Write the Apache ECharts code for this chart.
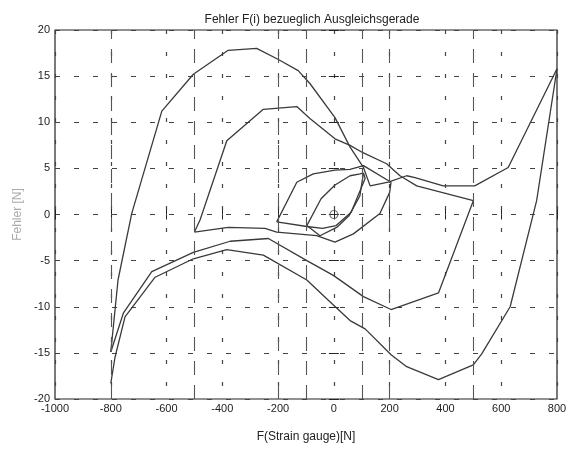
<!DOCTYPE html>
<html><head><meta charset="utf-8">
<script src="https://cdn.jsdelivr.net/npm/echarts@6/dist/echarts.min.js"></script>
<style>html,body{margin:0;padding:0;background:#fff}#c{width:582px;height:452px}</style>
</head><body><div id="c"></div>
<script>
// ---- chart text ----
const titleText = 'Fehler F(i) bezueglich Ausgleichsgerade';
const xName = 'F(Strain gauge)[N]';
const yName = 'Fehler [N]';
// ---- axis scales ----
const xMin = -1000, xMax = 800, xStep = 200;
const yMin = -20, yMax = 20, yStep = 5;
// vertical reference lines (turning points of the load cycles)
const refLines = [-800, -500, -200, -100, 100, 200, 500];
// ---- measured error, branch by branch, [force, error] ----
const branch1 = [[-800,-18.3],[-785,-15.5],[-749,-11.1],[-641,-6.8],[-504,-4.8],[-384,-3.8],[-253,-4.4],[-97,-7.1],[-20,-9.3],[58,-11.5],[112,-12.4],[205,-15.2],[261,-16.5],[375,-17.9],[500,-16.3],[530,-15.1],[632,-10],[727,1.5],[800,15.8]];
const branch2 = [[800,15.8],[625,5.1],[505,3.1],[392,3.1],[291,4.0],[261,4.2],[195,3.5],[130,3.1],[106,5.1],[58,7.3],[4,10.5],[-86,14.2],[-128,15.6],[-199,16.8],[-277,18.0],[-379,17.8],[-504,15.2],[-617,11.2],[-725,0.1],[-774,-7.1],[-800,-14.9]];
const branch3 = [[-800,-14.9],[-755,-10.7],[-653,-6.2],[-504,-4.1],[-372,-2.9],[-235,-2.6],[-97,-5.0],[-2,-6.6],[106,-8.9],[205,-10.3],[375,-8.5],[500,1.5]];
const branch4 = [[500,1.5],[297,3.1],[237,4.2],[189,5.5],[104,6.7],[58,7.5],[4,8.2],[-86,10.4],[-133,11.7],[-253,11.4],[-384,8.0],[-480,-0.6],[-500,-1.9]];
const branch5 = [[-500,-1.9],[-379,-1.4],[-247,-1.5],[-205,-1.9],[-62,-2.3],[4,-3.0],[70,-2.1],[165,0.1],[200,2.4],[205,3.5]];
const branch6 = [[205,3.5],[106,5.3],[58,4.9],[4,4.8],[-74,4.4],[-133,3.5],[-205,-0.8]];
const branch7 = [[-205,-0.8],[-97,-1.3],[-41,-1.5],[8,-1.2],[62,0.25],[112,3.9],[106,4.5]];
const branch8 = [[106,4.5],[94,4.4],[58,4.2],[4,3.2],[-46,1.7],[-97,-1.2]];
const branch9 = [[-97,-1.2],[-50,-2.3],[10,-1.4],[55,-0.1],[93,2.0],[106,4.5]];
const startPoint = [[0, 0]];

const branches = [branch1, branch2, branch3, branch4, branch5, branch6, branch7, branch8, branch9];
const lineColor = '#3a3a3a';
const font = 'Liberation Sans, Arial, sans-serif';

const chart = echarts.init(document.getElementById('c'), null, {renderer: 'canvas'});
const series = branches.map(b => ({
  type: 'line', data: b, showSymbol: false, symbol: 'none', silent: true,
  lineStyle: {color: lineColor, width: 1.3}, z: 3, animation: false
}));
series.push({
  type: 'scatter', data: startPoint, symbol: 'circle', symbolSize: 8,
  itemStyle: {color: 'rgba(0,0,0,0)', borderColor: '#555', borderWidth: 1.2}, z: 4, animation: false
});
series.push({
  type: 'line', data: [], silent: true, animation: false,
  markLine: {
    symbol: 'none', silent: true, animation: false,
    label: {show: false},
    lineStyle: {color: '#555', width: 1.1, type: [14, 10]},
    data: refLines.map(v => ({xAxis: v}))
  }
});

const baseX = {
  type: 'value', min: xMin, max: xMax, interval: xStep,
  axisLine: {show: false},
  axisTick: {show: true, inside: true, length: 5, lineStyle: {color: '#222'}},
};
const baseY = {
  type: 'value', min: yMin, max: yMax, interval: yStep,
  axisLine: {show: false},
  axisTick: {show: true, inside: true, length: 5, lineStyle: {color: '#222'}},
};

chart.setOption({
  animation: false,
  backgroundColor: '#fff',
  title: {
    text: titleText, left: 307, top: 9, textAlign: 'center',
    textStyle: {fontFamily: font, fontSize: 12, fontWeight: 'normal', color: '#222'}
  },
  grid: {left: 55, right: 25, top: 30, bottom: 53, show: true, borderColor: '#222', borderWidth: 1.2, backgroundColor: 'transparent'},
  xAxis: [
    Object.assign({}, baseX, {
      position: 'bottom',
      name: xName, nameLocation: 'middle', nameGap: 32,
      nameTextStyle: {fontFamily: font, fontSize: 12, color: '#222'},
      axisLabel: {fontFamily: font, fontSize: 11, color: '#222', margin: 4, formatter: v => String(v)},
      splitLine: {show: true, lineStyle: {color: '#444', width: 1.2, type: [4, 18]}}
    }),
    Object.assign({}, baseX, {position: 'top', axisLabel: {show: false}, splitLine: {show: false}})
  ],
  yAxis: [
    Object.assign({}, baseY, {
      position: 'left',
      name: yName, nameLocation: 'middle', nameGap: 30,
      nameTextStyle: {fontFamily: font, fontSize: 12, color: '#aaa'},
      axisLabel: {fontFamily: font, fontSize: 11, color: '#222', margin: 5, formatter: v => String(v)},
      splitLine: {show: true, lineStyle: {color: '#444', width: 1.2, type: [5, 14]}}
    }),
    Object.assign({}, baseY, {position: 'right', axisLabel: {show: false}, splitLine: {show: false}})
  ],
  series: series
});
</script></body></html>
